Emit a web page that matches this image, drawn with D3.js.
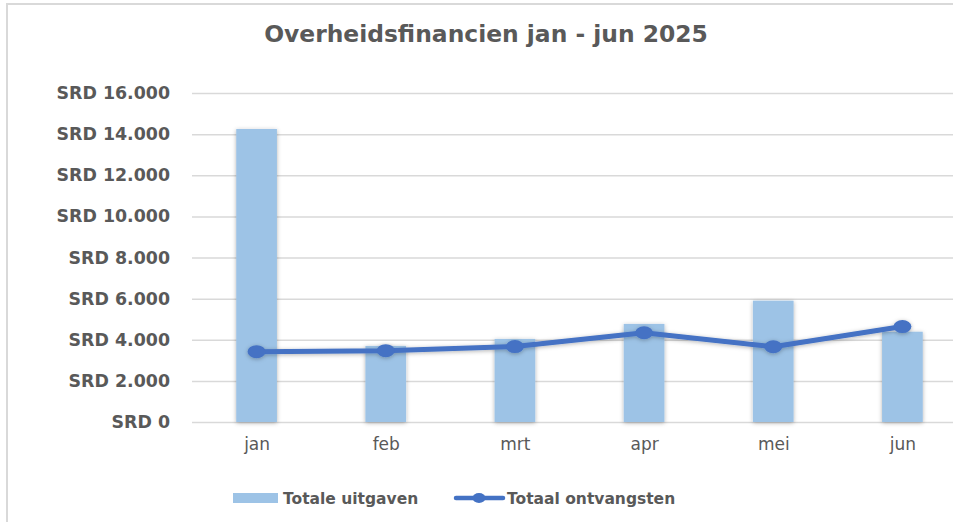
<!DOCTYPE html>
<html>
<head>
<meta charset="utf-8">
<script src="https://cdn.jsdelivr.net/npm/d3@7"></script>
<style>
  body { margin: 0; background: #fff; }
  svg { display: block; font-family: "DejaVu Sans", sans-serif; }
</style>
</head>
<body>
<div id="chart"></div>
<script>
// data
const months = ["jan", "feb", "mrt", "apr", "mei", "jun"];
const uitgaven = [14250, 3700, 4040, 4770, 5900, 4390];
const ontvangsten = [3420, 3470, 3670, 4340, 3660, 4640];
const yTicks = [0, 2000, 4000, 6000, 8000, 10000, 12000, 14000, 16000];

const width = 953,
    height = 522;
const margin = { top: 93, right: -14, bottom: 100, left: 192 };

const svg = d3.select("#chart")
    .append("svg")
    .attr("width", width)
    .attr("height", height);

// soft shadow like the spreadsheet effect
const defs = svg.append("defs");
defs.append("filter")
    .attr("id", "shadow")
    .attr("x", "-30%").attr("y", "-30%")
    .attr("width", "160%").attr("height", "160%")
    .append("feDropShadow")
    .attr("dx", 0).attr("dy", 1)
    .attr("stdDeviation", 2)
    .attr("flood-color", "#000")
    .attr("flood-opacity", 0.3);

// chart frame (only top and left edge visible)
svg.append("path")
    .attr("d", `M7,${height} V4 H${width}`)
    .attr("fill", "none")
    .attr("stroke", "#d9d9d9")
    .attr("stroke-width", 2);

// title
svg.append("text")
    .attr("x", 486)
    .attr("y", 42)
    .attr("text-anchor", "middle")
    .style("font-size", "23.4px")
    .style("font-weight", "bold")
    .attr("fill", "#595959")
    .text("Overheidsfinancien jan - jun 2025");

const x = d3.scaleBand()
    .domain(months)
    .range([margin.left, width - margin.right])
    .paddingInner(0.685)
    .paddingOuter(0.3425);

const xCenter = d3.scalePoint()
    .domain(months)
    .range([margin.left, width - margin.right])
    .padding(0.5);

const y = d3.scaleLinear()
    .domain([0, 16000])
    .range([height - margin.bottom, margin.top]);

const fmt = d => "SRD " + (d === 0 ? "0" : d3.format(",")(d).replace(/,/g, "."));

// gridlines + y labels
const yAxis = svg.append("g")
    .attr("transform", `translate(${margin.left},0)`)
    .call(d3.axisLeft(y).tickValues(yTicks).tickSize(-(width - margin.left)).tickPadding(22).tickFormat(fmt));
yAxis.select(".domain").remove();
yAxis.selectAll(".tick line").attr("stroke", "#d9d9d9").attr("stroke-width", 1.5);
yAxis.selectAll(".tick text")
    .attr("fill", "#595959")
    .style("font-size", "17.4px")
    .style("font-weight", "bold")
    .style("font-family", "'DejaVu Sans', sans-serif");

// x labels
const xAxis = svg.append("g")
    .attr("transform", `translate(0,${height - margin.bottom})`)
    .call(d3.axisBottom(xCenter).tickSize(0).tickPadding(16));
xAxis.select(".domain").remove();
xAxis.selectAll(".tick text")
    .attr("fill", "#595959")
    .style("font-size", "17px")
    .style("font-family", "'DejaVu Sans', sans-serif");

// bars
svg.selectAll("rect.bar")
    .data(uitgaven)
    .join("rect")
    .attr("class", "bar")
    .attr("x", (d, i) => x(months[i]))
    .attr("y", d => y(d))
    .attr("width", x.bandwidth())
    .attr("height", d => y(0) - y(d))
    .attr("fill", "#9dc3e6")
    .attr("filter", "url(#shadow)");

// line
const line = d3.line()
    .x((d, i) => xCenter(months[i]))
    .y(d => y(d));

const lineG = svg.append("g").attr("filter", "url(#shadow)");
lineG.append("path")
    .datum(ontvangsten)
    .attr("d", line)
    .attr("fill", "none")
    .attr("stroke", "#4472c4")
    .attr("stroke-width", 5)
    .attr("stroke-linejoin", "round")
    .attr("stroke-linecap", "round");

lineG.selectAll("ellipse")
    .data(ontvangsten)
    .join("ellipse")
    .attr("cx", (d, i) => xCenter(months[i]))
    .attr("cy", d => y(d))
    .attr("rx", 9)
    .attr("ry", 6.5)
    .attr("fill", "#4472c4");

// legend
const legend = svg.append("g").attr("transform", "translate(0,498)");
legend.append("rect")
    .attr("x", 233).attr("y", -5)
    .attr("width", 45).attr("height", 10)
    .attr("fill", "#9dc3e6");
legend.append("text")
    .attr("x", 283).attr("y", 5.5)
    .attr("fill", "#595959")
    .style("font-size", "15.5px")
    .style("font-weight", "bold")
    .text("Totale uitgaven");

legend.append("line")
    .attr("x1", 456).attr("x2", 503)
    .attr("y1", 0).attr("y2", 0)
    .attr("stroke", "#4472c4")
    .attr("stroke-width", 4.5)
    .attr("stroke-linecap", "round");
legend.append("ellipse")
    .attr("cx", 479).attr("cy", 0)
    .attr("rx", 6.5).attr("ry", 5)
    .attr("fill", "#4472c4");
legend.append("text")
    .attr("x", 507).attr("y", 5.5)
    .attr("fill", "#595959")
    .style("font-size", "15.5px")
    .style("font-weight", "bold")
    .text("Totaal ontvangsten");
</script>
</body>
</html>
